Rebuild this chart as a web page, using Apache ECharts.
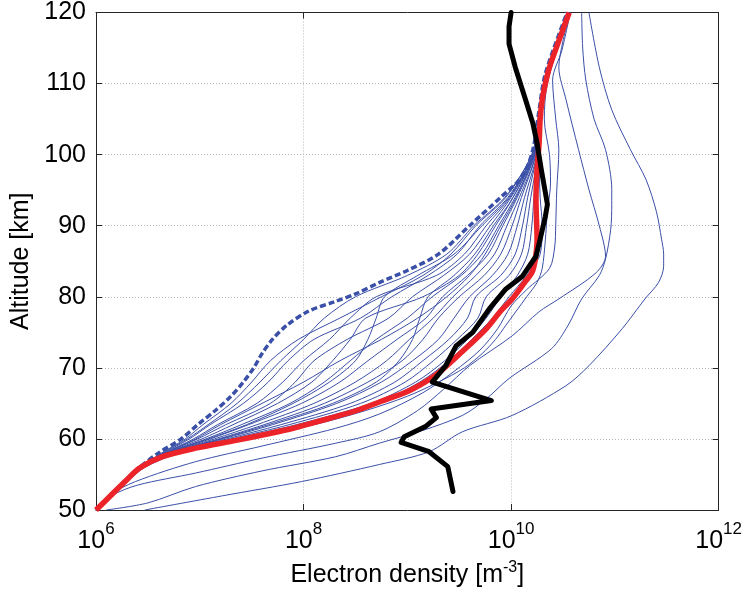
<!DOCTYPE html>
<html>
<head>
<meta charset="utf-8">
<script src="https://cdn.jsdelivr.net/npm/echarts@6/dist/echarts.min.js"></script>
<style>
html, body { margin: 0; padding: 0; background: #ffffff; }
#chart { width: 745px; height: 595px; }
</style>
</head>
<body>
<div id="chart"></div>
<script>
// Electron density profiles. Densities are stored as log10 exponents (m^-3), altitudes in km.

// Altitudes shared by the bundle of modelled profiles
const bundleAltitudes = [50, 54, 56, 58, 60, 62, 65, 68, 71, 74, 77, 80, 83, 86, 90, 94, 100, 105, 110, 120];

// Modelled profiles that fan out between the dashed and the red profile
const bundleExponents = [
  [6.0, 6.27, 6.43, 6.63, 6.86, 7.03, 7.30, 7.50, 7.68, 7.95, 8.35, 8.75, 9.15, 9.42, 9.66, 9.95, 10.20, 10.26, 10.32, 10.54],
  [6.0, 6.27, 6.44, 6.65, 6.90, 7.10, 7.42, 7.66, 7.85, 8.10, 8.55, 8.85, 9.20, 9.48, 9.70, 9.97, 10.21, 10.27, 10.32, 10.54],
  [6.0, 6.28, 6.44, 6.66, 6.94, 7.17, 7.55, 7.80, 8.00, 8.25, 8.45, 8.70, 9.28, 9.55, 9.76, 9.99, 10.21, 10.27, 10.32, 10.54],
  [6.0, 6.28, 6.45, 6.67, 6.98, 7.25, 7.68, 7.92, 8.10, 8.42, 8.82, 9.05, 9.35, 9.60, 9.80, 10.00, 10.22, 10.27, 10.32, 10.54],
  [6.0, 6.28, 6.45, 6.68, 7.02, 7.32, 7.75, 8.08, 8.28, 8.45, 8.60, 9.15, 9.50, 9.68, 9.85, 10.02, 10.22, 10.27, 10.32, 10.55],
  [6.0, 6.28, 6.45, 6.69, 7.06, 7.40, 7.87, 8.20, 8.45, 8.70, 9.00, 9.24, 9.52, 9.72, 9.88, 10.04, 10.23, 10.28, 10.33, 10.55],
  [6.0, 6.28, 6.46, 6.70, 7.10, 7.47, 7.98, 8.35, 8.62, 8.90, 9.18, 9.34, 9.58, 9.78, 9.92, 10.06, 10.23, 10.28, 10.33, 10.55],
  [6.0, 6.29, 6.46, 6.71, 7.14, 7.55, 8.10, 8.50, 8.80, 9.02, 9.25, 9.44, 9.66, 9.84, 9.96, 10.08, 10.24, 10.28, 10.33, 10.55],
  [6.0, 6.29, 6.46, 6.72, 7.18, 7.62, 8.20, 8.62, 8.95, 9.15, 9.30, 9.50, 9.74, 9.90, 10.01, 10.10, 10.24, 10.28, 10.33, 10.55],
  [6.0, 6.29, 6.46, 6.73, 7.22, 7.70, 8.32, 8.75, 9.05, 9.30, 9.45, 9.60, 9.82, 9.97, 10.06, 10.13, 10.25, 10.29, 10.33, 10.55],
  [6.0, 6.29, 6.46, 6.74, 7.26, 7.78, 8.45, 8.88, 9.15, 9.40, 9.58, 9.66, 9.90, 10.04, 10.11, 10.16, 10.25, 10.29, 10.33, 10.55],
  [6.0, 6.29, 6.46, 6.75, 7.30, 7.86, 8.55, 8.98, 9.25, 9.48, 9.68, 9.76, 9.98, 10.10, 10.15, 10.19, 10.26, 10.29, 10.34, 10.55],
  [6.0, 6.29, 6.46, 6.75, 7.34, 7.93, 8.65, 9.08, 9.36, 9.58, 9.76, 9.90, 10.06, 10.16, 10.20, 10.22, 10.26, 10.29, 10.34, 10.56],
  [6.0, 6.28, 6.45, 6.69, 7.08, 7.45, 7.90, 8.25, 8.50, 8.62, 8.70, 8.78, 9.10, 9.45, 9.72, 9.98, 10.21, 10.27, 10.32, 10.54],
  [6.0, 6.28, 6.45, 6.67, 6.96, 7.20, 7.60, 8.00, 8.35, 8.75, 9.10, 9.38, 9.60, 9.75, 9.90, 10.05, 10.22, 10.28, 10.33, 10.55],
  [6.0, 6.29, 6.46, 6.72, 7.20, 7.66, 8.28, 8.70, 8.92, 9.05, 9.12, 9.20, 9.45, 9.65, 9.83, 10.02, 10.22, 10.28, 10.33, 10.55],
  [6.0, 6.29, 6.46, 6.76, 7.36, 7.96, 8.70, 9.12, 9.40, 9.62, 9.82, 9.98, 10.15, 10.28, 10.30, 10.28, 10.27, 10.29, 10.34, 10.56],
  [6.0, 6.27, 6.44, 6.64, 6.88, 7.08, 7.36, 7.58, 7.78, 8.00, 8.20, 8.50, 9.00, 9.38, 9.64, 9.94, 10.20, 10.26, 10.32, 10.54]
];

// Profiles that reach the highest densities; each point is [log10 density, altitude]
const highProfile1 = [
  [6.47, 50], [7.22, 52], [7.98, 54], [8.73, 56.4], [9.21, 58.2], [9.53, 61], [10.01, 63.3],
  [10.53, 67.5], [10.75, 70.3], [11.07, 75.5], [11.29, 79.7], [11.42, 82], [11.47, 84.3],
  [11.47, 86], [11.45, 88.1], [11.4, 92], [11.3, 96.5], [11.15, 100.7], [10.97, 106.3],
  [10.85, 112.3], [10.75, 120]
];
const highProfile2 = [
  [6.1, 50], [6.5, 51], [6.96, 53.3], [7.6, 55.5], [8.31, 57.5], [8.73, 59.4], [9.15, 61.2],
  [9.53, 63.3], [9.75, 65.5], [9.98, 68.5], [10.39, 72.7], [10.55, 76], [10.68, 79.7],
  [10.85, 83], [10.91, 85.3], [10.96, 89.5], [10.97, 93], [10.97, 95.1], [10.91, 100.7],
  [10.8, 105], [10.72, 110.5], [10.69, 115], [10.68, 120]
];
const highProfile3 = [
  [6.0, 50], [6.15, 52], [6.4, 53.5], [6.96, 55.2], [7.6, 57.3], [8.31, 59.4], [8.73, 61],
  [9.1, 64], [9.35, 67], [9.6, 70.3], [10.01, 74.5], [10.27, 77.9], [10.46, 79.7],
  [10.82, 83.4], [10.91, 85.7], [10.85, 90], [10.75, 95.1], [10.65, 100.7], [10.53, 107.7],
  [10.46, 112.3], [10.5, 116], [10.57, 120]
];
const highProfile4 = [
  [6.0, 50], [6.12, 52], [6.38, 54], [6.96, 56.8], [7.6, 59], [8.31, 61.5], [8.73, 63.5],
  [9.15, 66.5], [9.45, 69.5], [9.7, 72.5], [9.87, 75.5], [10.0, 78.7], [10.15, 81],
  [10.37, 84], [10.42, 87], [10.43, 90], [10.44, 95], [10.46, 100.7], [10.43, 105],
  [10.4, 110.5], [10.49, 114.7], [10.57, 120]
];
const highProfile5 = [
  [6.0, 50], [6.3, 54], [6.47, 56], [6.8, 58], [7.42, 60], [8.1, 62], [8.6, 64], [9.0, 66],
  [9.3, 68], [9.55, 70], [9.72, 72], [9.85, 74], [9.95, 76], [10.05, 78], [10.15, 80],
  [10.25, 82], [10.3, 84], [10.33, 88], [10.35, 92], [10.38, 96], [10.37, 100],
  [10.32, 105], [10.35, 110], [10.55, 120]
];

// Upper envelope of the modelled profiles (dashed)
const dashedProfile = [
  [6.0, 50], [6.27, 54], [6.42, 56], [6.6, 58], [6.82, 60], [6.98, 62], [7.15, 64], [7.3, 66],
  [7.42, 68], [7.52, 70], [7.6, 72], [7.7, 74], [7.84, 76], [8.05, 78], [8.3, 79.3],
  [8.5, 80.4], [8.73, 82], [9.0, 83.7], [9.3, 86], [9.6, 90], [9.9, 94], [10.11, 97],
  [10.21, 100.7], [10.27, 106.3], [10.33, 111.4], [10.54, 120]
];

// Reference profile (red)
const redProfile = [
  [6.0, 50], [6.14, 52], [6.28, 54], [6.42, 55.9], [6.64, 57.5], [6.96, 58.7], [7.35, 59.8],
  [7.65, 60.7], [7.9, 61.5], [8.1, 62.3], [8.3, 63.1], [8.51, 64.0], [8.75, 65.3],
  [8.99, 66.6], [9.17, 68.0], [9.31, 69.4], [9.53, 72.3], [9.76, 75.5], [9.9, 78],
  [10.01, 79.7], [10.13, 82], [10.2, 83.4], [10.23, 85], [10.25, 88], [10.24, 93.7],
  [10.25, 98], [10.27, 101.6], [10.28, 105], [10.3, 107.7], [10.33, 110], [10.37, 112.3],
  [10.46, 116], [10.56, 120]
];

// Measured profile (black)
const measuredProfile = [
  [9.44, 52.6], [9.39, 56.1], [9.21, 58.2], [8.94, 59.5], [8.97, 60.3], [9.18, 61.8],
  [9.28, 63.0], [9.23, 64.2], [9.81, 65.4], [9.24, 68.0], [9.37, 70.3], [9.47, 73.1],
  [9.63, 75.0], [9.79, 78.3], [9.95, 81.1], [10.11, 82.9], [10.24, 85.7], [10.28, 88.1],
  [10.33, 91.3], [10.35, 93], [10.32, 95.5], [10.29, 98], [10.25, 101.6], [10.21, 104.4],
  [10.14, 107.7], [10.04, 112.3], [9.98, 115.6], [9.98, 118], [10.0, 120]
];

// Axis settings
const xMinExp = 6;
const xMaxExp = 12;
const yMin = 50;
const yMax = 120;
const yStep = 10;

const FONT = "'Liberation Sans', Arial, Helvetica, sans-serif";
const BLUE = '#3a4fa6';

function toDensity(pairs) {
  return pairs.map(p => [Math.pow(10, p[0]), p[1]]);
}

const series = [];

bundleExponents.forEach(row => {
  series.push({
    type: 'line',
    data: row.map((e, i) => [Math.pow(10, e), bundleAltitudes[i]]),
    showSymbol: false,
    smooth: 0.3,
    lineStyle: { color: BLUE, width: 1 },
    z: 2,
    silent: true
  });
});

[highProfile1, highProfile2, highProfile3, highProfile4, highProfile5].forEach(p => {
  series.push({
    type: 'line',
    data: toDensity(p),
    showSymbol: false,
    smooth: 0.3,
    lineStyle: { color: BLUE, width: 1 },
    z: 2,
    silent: true
  });
});

series.push({
  type: 'line',
  data: toDensity(dashedProfile),
  showSymbol: false,
  smooth: 0.3,
  lineStyle: { color: '#3a50a8', width: 3.5, type: [6, 3] },
  z: 3,
  silent: true
});

series.push({
  type: 'line',
  data: toDensity(redProfile),
  showSymbol: false,
  smooth: 0.3,
  lineStyle: { color: '#ec2328', width: 5.5 },
  z: 4,
  silent: true
});

series.push({
  type: 'line',
  data: toDensity(measuredProfile),
  showSymbol: false,
  smooth: false,
  lineStyle: { color: '#000000', width: 5, join: 'round', cap: 'round' },
  z: 5,
  silent: true
});

const gridLineStyle = { color: '#b8b8b8', width: 1, type: [1, 2] };

const xAxisBase = {
  type: 'log',
  logBase: 100,
  min: Math.pow(10, xMinExp),
  max: Math.pow(10, xMaxExp),
  axisLine: { show: true, lineStyle: { color: '#262626', width: 1 } },
  axisTick: { show: true, inside: true, length: 6, lineStyle: { color: '#262626' } }
};

const yAxisBase = {
  type: 'value',
  min: yMin,
  max: yMax,
  interval: yStep,
  axisLine: { show: true, lineStyle: { color: '#262626', width: 1 } },
  axisTick: { show: true, inside: true, length: 6, lineStyle: { color: '#262626' } }
};

const option = {
  animation: false,
  backgroundColor: '#ffffff',
  grid: { left: 96, right: 25, top: 12, bottom: 83, containLabel: false },
  xAxis: [
    Object.assign({}, xAxisBase, {
      position: 'bottom',
      name: 'Electron density [m{s|-3}]',
      nameLocation: 'middle',
      nameGap: 50,
      nameTextStyle: {
        fontFamily: FONT, fontSize: 25, color: '#000', lineHeight: 30,
        rich: { s: { fontFamily: FONT, fontSize: 16, lineHeight: 16, verticalAlign: 'top', color: '#000' } }
      },
      splitLine: { show: true, lineStyle: gridLineStyle },
      axisLabel: {
        show: true,
        margin: 11,
        formatter: v => '{b|10}{s|' + Math.round(Math.log10(v)) + '}',
        rich: {
          b: { fontFamily: FONT, fontSize: 25, lineHeight: 40, color: '#000' },
          s: { fontFamily: FONT, fontSize: 17, lineHeight: 17, verticalAlign: 'top', color: '#000' }
        }
      }
    }),
    Object.assign({}, xAxisBase, {
      position: 'top',
      axisLabel: { show: false },
      splitLine: { show: false }
    })
  ],
  yAxis: [
    Object.assign({}, yAxisBase, {
      position: 'left',
      name: 'Altitude [km]',
      nameLocation: 'middle',
      nameRotate: 90,
      nameGap: 58,
      nameTextStyle: { fontFamily: FONT, fontSize: 25, color: '#000' },
      splitLine: { show: true, lineStyle: gridLineStyle },
      axisLabel: { show: true, margin: 10, fontFamily: FONT, fontSize: 25, color: '#000' }
    }),
    Object.assign({}, yAxisBase, {
      position: 'right',
      axisLabel: { show: false },
      splitLine: { show: false }
    })
  ],
  series: series
};

const chart = echarts.init(document.getElementById('chart'), null, { renderer: 'canvas' });
chart.setOption(option);
</script>
</body>
</html>
